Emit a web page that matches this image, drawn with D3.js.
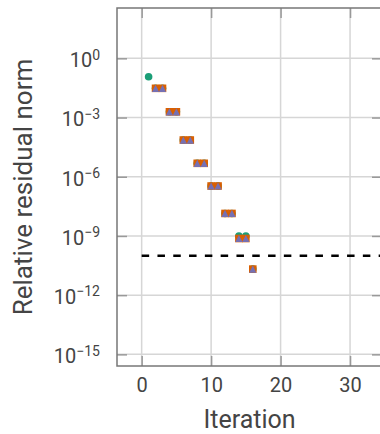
<!DOCTYPE html>
<html>
<head>
<meta charset="utf-8">
<script src="https://cdn.jsdelivr.net/npm/d3@7"></script>
<style>
  body { margin: 0; background: #fff; }
  text { font-family: Roboto, "Noto Sans", sans-serif; fill: #444; }
</style>
</head>
<body>
<div id="chart"></div>
<script>
// iterations and relative residuals (log10)
var itersA = [1, 2, 3, 4, 5, 6, 7, 8, 9, 10, 11, 12, 13, 14, 15, 16];
var logA = [-0.93, -1.52, -1.52, -2.71, -2.71, -4.14, -4.14, -5.32, -5.32, -6.47, -6.47, -7.86, -7.86, -9.0, -9.0, -10.68];
var itersB = [2, 3, 4, 5, 6, 7, 8, 9, 10, 11, 12, 13, 14, 15, 16];
var logB = [-1.52, -1.52, -2.71, -2.71, -4.14, -4.14, -5.32, -5.32, -6.47, -6.47, -7.86, -7.86, -9.13, -9.13, -10.68];
var itersC = [2, 3, 4, 5, 6, 7, 8, 9, 10, 11, 12, 13, 14, 15, 16];
var logC = [-1.52, -1.52, -2.71, -2.71, -4.14, -4.14, -5.32, -5.32, -6.47, -6.47, -7.86, -7.86, -9.13, -9.13, -10.68];
var tolerance = 1e-10;

var xTicks = [0, 10, 20, 30];
var yTickExp = [0, -3, -6, -9, -12, -15];

var colors = ["#1b9e77", "#d95f02", "#7570b3"];

var width = 380, height = 434;
var plotL = 117, plotR = 382, plotT = 8, plotB = 366;
var ms = 7.6; // marker size

var x = d3.scaleLinear().domain([-3.55, 34.6]).range([plotL, plotR]);
var y = d3.scaleLog().domain([Math.pow(10, 2.55), Math.pow(10, -15.59)]).range([plotT, plotB]);

var svg = d3.select("#chart").append("svg")
  .attr("width", width)
  .attr("height", height);

/* grid */
svg.append("g").selectAll("line")
  .data(xTicks).enter().append("line")
  .attr("x1", d => x(d)).attr("x2", d => x(d))
  .attr("y1", plotT).attr("y2", plotB)
  .attr("stroke", "#d6d6d6").attr("stroke-width", 1.5);

svg.append("g").selectAll("line")
  .data(yTickExp).enter().append("line")
  .attr("x1", plotL).attr("x2", plotR)
  .attr("y1", d => y(Math.pow(10, d))).attr("y2", d => y(Math.pow(10, d)))
  .attr("stroke", "#d6d6d6").attr("stroke-width", 1.5);

/* tolerance line */
svg.append("line")
  .attr("x1", x(0)).attr("x2", x(34.6))
  .attr("y1", y(tolerance)).attr("y2", y(tolerance))
  .attr("stroke", "#000").attr("stroke-width", 2.5)
  .attr("stroke-dasharray", "7.5,8.3");

/* markers */
var pts = svg.append("g");
pts.selectAll("circle")
  .data(itersA.map((d, i) => ({it: d, v: Math.pow(10, logA[i])}))).enter()
  .append("circle")
  .attr("cx", d => x(d.it)).attr("cy", d => y(d.v))
  .attr("r", ms / 2).attr("fill", colors[0]);

pts.selectAll("rect")
  .data(itersB.map((d, i) => ({it: d, v: Math.pow(10, logB[i])}))).enter()
  .append("rect")
  .attr("x", d => x(d.it) - ms / 2).attr("y", d => y(d.v) - ms / 2)
  .attr("width", ms).attr("height", ms)
  .attr("fill", colors[1]);

var h = ms / 2 - 0.2;
pts.selectAll("path")
  .data(itersC.map((d, i) => ({it: d, v: Math.pow(10, logC[i])}))).enter()
  .append("path")
  .attr("d", `M0,${-h}L${h},${h}L${-h},${h}Z`)
  .attr("transform", d => `translate(${x(d.it)},${y(d.v)})`)
  .attr("fill", colors[2]);

/* axes with inward ticks */
function styleAxis(g) {
  g.select(".domain").remove();
  g.selectAll(".tick line").attr("stroke", "#999").attr("stroke-width", 1.5);
}

svg.append("g")
  .attr("transform", `translate(0,${plotB})`)
  .call(d3.axisBottom(x).tickValues(xTicks).tickSize(-10).tickPadding(12))
  .call(styleAxis)
  .selectAll("text").attr("font-size", 20).attr("fill", "#444");

svg.append("g")
  .attr("transform", `translate(0,${plotT})`)
  .call(d3.axisTop(x).tickValues(xTicks).tickSize(-10).tickFormat(""))
  .call(styleAxis);

var yAx = svg.append("g")
  .attr("transform", `translate(${plotL},0)`)
  .call(d3.axisLeft(y).tickValues(yTickExp.map(e => Math.pow(10, e))).tickSize(-10).tickPadding(17).tickFormat(""))
  .call(styleAxis);

yAx.selectAll(".tick text")
  .attr("font-size", 20).attr("fill", "#444").attr("dy", "0.42em")
  .each(function(d, i) {
    var t = d3.select(this);
    t.append("tspan").text("10");
    t.append("tspan").attr("dy", "-0.55em").attr("font-size", 14)
      .text(yTickExp[i] < 0 ? "\u2212" + (-yTickExp[i]) : yTickExp[i]);
  });

svg.append("g")
  .attr("transform", `translate(${plotR},0)`)
  .call(d3.axisRight(y).tickValues(yTickExp.map(e => Math.pow(10, e))).tickSize(-10).tickFormat(""))
  .call(styleAxis);

/* frame */
svg.append("rect")
  .attr("x", plotL).attr("y", plotT)
  .attr("width", plotR - plotL).attr("height", plotB - plotT)
  .attr("fill", "none").attr("stroke", "#777").attr("stroke-width", 1.5);

/* titles */
svg.append("text")
  .attr("x", (plotL + plotR) / 2).attr("y", 428)
  .attr("text-anchor", "middle").attr("font-size", 25)
  .text("Iteration");

svg.append("text")
  .attr("transform", `translate(32,${(plotT + plotB) / 2}) rotate(-90)`)
  .attr("text-anchor", "middle").attr("font-size", 26)
  .text("Relative residual norm");
</script>
</body>
</html>
